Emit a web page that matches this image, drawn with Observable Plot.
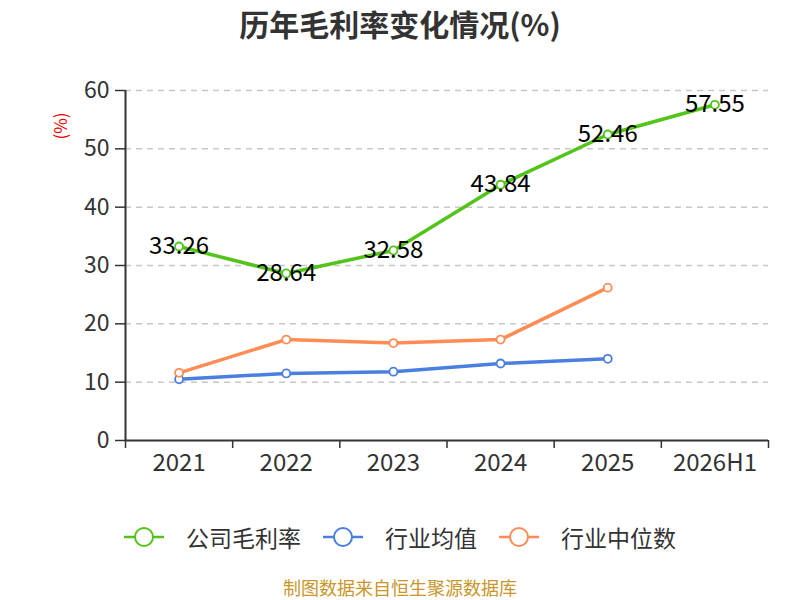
<!DOCTYPE html>
<html>
<head>
<meta charset="utf-8">
<script src="https://cdn.jsdelivr.net/npm/d3@7"></script>
<script src="https://cdn.jsdelivr.net/npm/@observablehq/plot@0.6"></script>
<style>
  body { margin: 0; width: 800px; height: 600px; background: #fff; font-family: "Noto Sans CJK SC", "Noto Sans", sans-serif; overflow: hidden; }
  #title { height: 50px; line-height: 46px; text-align: center; font-size: 30px; font-weight: bold; color: #333; }
  #chart svg { display: block; }
  #legend { display: flex; justify-content: center; align-items: center; gap: 22px; height: 50px; margin-top: 22px; font-size: 23px; color: #333; }
  #legend .item { display: flex; align-items: center; gap: 22px; }
  #caption { text-align: center; font-size: 18px; color: #c8962a; margin-top: 12px; }
</style>
</head>
<body>
<div id="title">历年毛利率变化情况(%)</div>
<div id="chart"></div>
<div id="legend"></div>
<div id="caption">制图数据来自恒生聚源数据库</div>
<script>
const categories = ["2021", "2022", "2023", "2024", "2025", "2026H1"];
const company = [33.26, 28.64, 32.58, 43.84, 52.46, 57.55];
const industryAvg = [10.5, 11.5, 11.8, 13.2, 14.0];
const industryMedian = [11.6, 17.3, 16.7, 17.3, 26.2];
const yTicks = [0, 10, 20, 30, 40, 50, 60];
const seriesNames = ["公司毛利率", "行业均值", "行业中位数"];
const colors = ["#52c41a", "#4a7fe0", "#ff8c55"];

const toRows = (vals) => vals.map((v, i) => ({i, v}));
const rowsCompany = toRows(company);
const rowsAvg = toRows(industryAvg);
const rowsMedian = toRows(industryMedian);
const idx = categories.map((_, i) => i);
const bounds = categories.map((_, i) => i - 0.5).concat([categories.length - 0.5]);

const font = "'Noto Sans CJK SC', 'Noto Sans', sans-serif";

const plot = Plot.plot({
  width: 800,
  height: 440,
  marginLeft: 125,
  marginRight: 32,
  marginTop: 40,
  marginBottom: 50,
  style: {fontFamily: font, color: "#333", background: "#fff"},
  x: {type: "linear", domain: [-0.5, categories.length - 0.5]},
  y: {domain: [0, 60]},
  marks: [
    Plot.ruleY(yTicks.filter(d => d > 0), {stroke: "#c8c8c8", strokeWidth: 1.5, strokeDasharray: "6,5"}),
    Plot.axisY(yTicks, {tickSize: 10, tickPadding: 6, fontSize: 23, stroke: "#333", strokeWidth: 1.5, label: null, color: "#333"}),
    Plot.axisX(bounds, {tickSize: 8, tickFormat: () => "", stroke: "#333", strokeWidth: 1.5, label: null}),
    Plot.axisX(idx, {tickSize: 0, tickPadding: 13, tickFormat: i => categories[i], fontSize: 24, label: null}),
    Plot.ruleX([-0.5], {stroke: "#333", strokeWidth: 2}),
    Plot.ruleY([0], {stroke: "#333", strokeWidth: 2}),
    Plot.line(rowsAvg, {x: "i", y: "v", stroke: colors[1], strokeWidth: 3.5}),
    Plot.dot(rowsAvg, {x: "i", y: "v", r: 4, fill: "#fff", stroke: colors[1], strokeWidth: 1.8}),
    Plot.line(rowsMedian, {x: "i", y: "v", stroke: colors[2], strokeWidth: 3.5}),
    Plot.dot(rowsMedian, {x: "i", y: "v", r: 4, fill: "#fff", stroke: colors[2], strokeWidth: 1.8}),
    Plot.line(rowsCompany, {x: "i", y: "v", stroke: colors[0], strokeWidth: 3.5}),
    Plot.dot(rowsCompany, {x: "i", y: "v", r: 4, fill: "#fff", stroke: colors[0], strokeWidth: 1.8}),
    Plot.text(rowsCompany, {x: "i", y: "v", text: d => d.v.toFixed(2), fontSize: 24, fill: "#000", textAnchor: "middle", lineAnchor: "middle"})
  ]
});
document.getElementById("chart").appendChild(plot);

// y-axis unit label
const svg = d3.select(plot);
svg.append("text")
  .attr("transform", "translate(62,76) rotate(-90)")
  .attr("text-anchor", "middle")
  .attr("dominant-baseline", "middle")
  .attr("fill", "#e00")
  .attr("font-size", 17)
  .attr("font-family", font)
  .text("(%)");

// legend
const legend = d3.select("#legend");
seriesNames.forEach((name, k) => {
  const item = legend.append("div").attr("class", "item");
  const s = item.append("svg").attr("width", 40).attr("height", 24);
  s.append("line").attr("x1", 0).attr("x2", 40).attr("y1", 12).attr("y2", 12).attr("stroke", colors[k]).attr("stroke-width", 2.5);
  s.append("circle").attr("cx", 20).attr("cy", 12).attr("r", 9).attr("fill", "#fff").attr("stroke", colors[k]).attr("stroke-width", 2);
  item.append("span").text(name);
});
</script>
</body>
</html>
